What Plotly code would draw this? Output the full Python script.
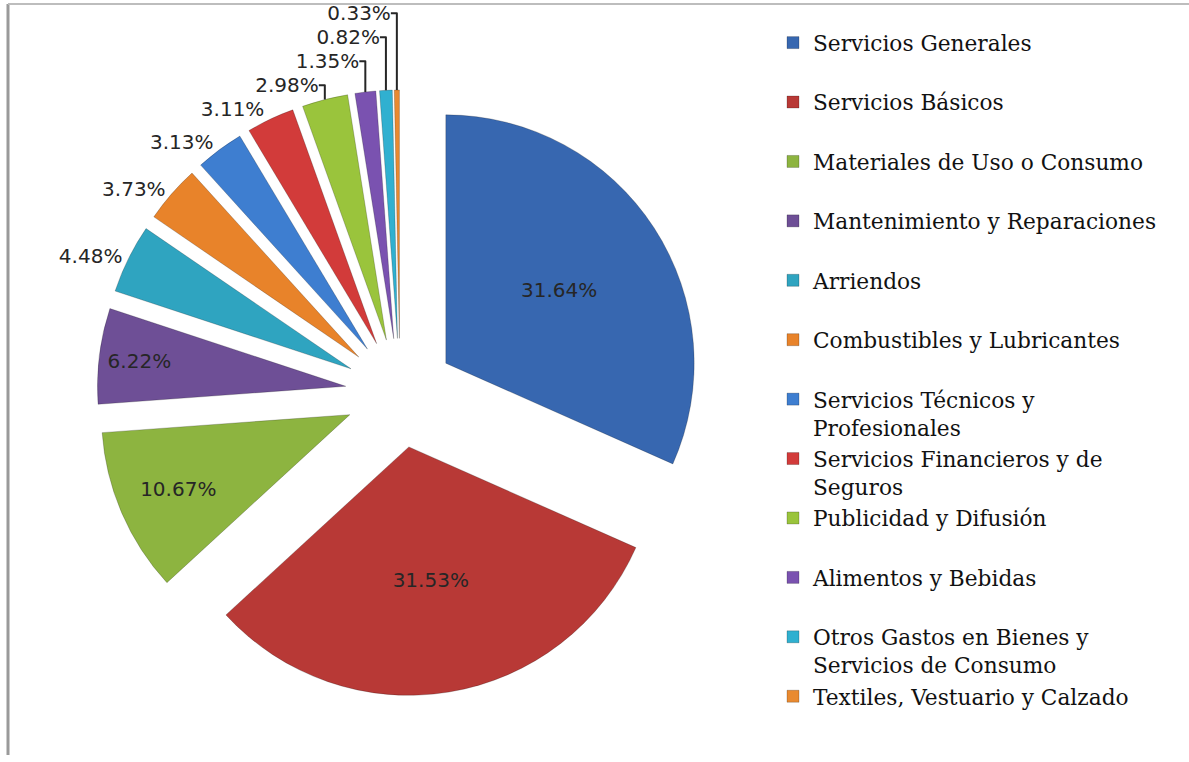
import plotly.graph_objects as go

# categories (legend text, with the line wraps seen in the picture)
labels = [
    "Servicios Generales",
    "Servicios Básicos",
    "Materiales de Uso o Consumo",
    "Mantenimiento y Reparaciones",
    "Arriendos",
    "Combustibles y Lubricantes",
    "Servicios Técnicos y<br>Profesionales",
    "Servicios Financieros y de<br>Seguros",
    "Publicidad y Difusión",
    "Alimentos y Bebidas",
    "Otros Gastos en Bienes y<br>Servicios de Consumo",
    "Textiles, Vestuario y Calzado",
]
values = [31.64, 31.53, 10.67, 6.22, 4.48, 3.73, 3.13, 3.11, 2.98, 1.35, 0.82, 0.33]

colors = [
    "#3767B0", "#B83936", "#8DB440", "#6E4F96", "#2FA4C0", "#E8832A",
    "#3E7ED0", "#D23B3A", "#9AC43C", "#7A52B0", "#30B0D0", "#E98A30",
]

# pad one-line legend entries to two lines so every entry takes the same height
legend_labels = [l if "<br>" in l else l + "<br> " for l in labels]
text_pos = ["inside" if v > 5 else "outside" for v in values]

W, H = 1189, 762

fig = go.Figure()
fig.add_trace(
    go.Pie(
        labels=legend_labels,
        values=values,
        sort=False,
        direction="clockwise",
        rotation=0,
        pull=0.22,
        marker=dict(colors=colors, line=dict(color="rgba(0,0,0,0.35)", width=0.6)),
        texttemplate="%{value:.2f}%",
        textposition=text_pos,
        insidetextorientation="horizontal",
        textfont=dict(family="DejaVu Sans, sans-serif", size=20, color="#262626"),
        domain=dict(x=[97 / W, 703 / W], y=[1 - 696 / H, 1 - 90 / H]),
        hoverinfo="label+value",
    )
)

# grey frame on the left and top edge
fig.add_shape(type="line", xref="paper", yref="paper",
              x0=8 / W, x1=8 / W, y0=1 - 755 / H, y1=1 - 4 / H,
              line=dict(color="#9A9A9A", width=3))
fig.add_shape(type="line", xref="paper", yref="paper",
              x0=8 / W, x1=1, y0=1 - 4 / H, y1=1 - 4 / H,
              line=dict(color="#BDBDBD", width=2))

fig.update_layout(
    width=W,
    height=H,
    margin={'l': 0, 'r': 0, 't': 0, 'b': 0, 'autoexpand': False},
    paper_bgcolor="white",
    plot_bgcolor="white",
    showlegend=True,
    legend=dict(
        x=773 / W,
        y=1 - 22 / H,
        xanchor="left",
        yanchor="top",
        valign="top",
        font=dict(family="DejaVu Serif, serif", size=21.7, color="#111111"),
        itemwidth=30,
        bgcolor="rgba(0,0,0,0)",
    ),
)

# page body has an 8px default margin; drop it so the figure fills the window
fig.write_html(
    "out.html",
    config={"displayModeBar": False},
    post_script="document.body.style.margin='0';",
)
